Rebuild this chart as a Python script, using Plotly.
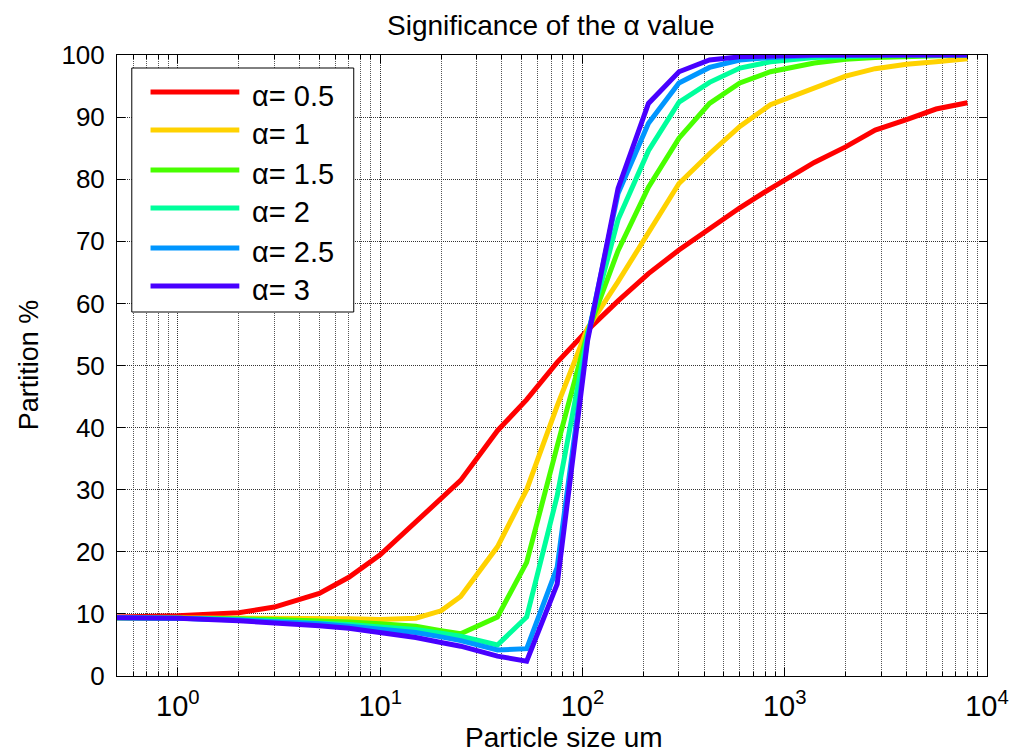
import plotly.graph_objects as go

# ---- data ----
particle_size = [0.5, 0.7, 1, 2, 3, 5, 7, 10, 15, 20, 25, 38, 53, 75, 106, 150,
                 212, 300, 425, 600, 850, 1400, 2000, 2800, 4000, 5600, 8000]
alpha_labels = ["α= 0.5", "α= 1", "α= 1.5", "α= 2", "α= 2.5", "α= 3"]
part_a05 = [9.5, 9.6, 9.7, 10.2, 11.1, 13.3, 15.9, 19.5, 24.8, 28.8, 31.5, 39.5, 44.5, 50.5,
            55.7, 60.4, 64.8, 68.6, 72.1, 75.4, 78.5, 82.7, 85.2, 87.9, 89.6, 91.3, 92.3]
part_a10 = [9.4, 9.4, 9.4, 9.3, 9.3, 9.2, 9.2, 9.1, 9.3, 10.5, 12.8, 20.8, 30.0, 43.5,
            56.0, 63.5, 71.5, 79.3, 84.1, 88.5, 92.0, 94.8, 96.6, 97.8, 98.5, 98.9, 99.4]
part_a15 = [9.4, 9.4, 9.4, 9.2, 9.1, 8.9, 8.7, 8.4, 8.0, 7.3, 6.8, 9.5, 18.3, 37.0,
            55.3, 68.5, 78.7, 86.6, 92.2, 95.5, 97.3, 98.7, 99.3, 99.6, 99.8, 99.9, 100]
part_a20 = [9.4, 9.4, 9.3, 9.1, 8.9, 8.6, 8.3, 7.9, 7.5, 6.9, 6.4, 5.0, 9.5, 29.0,
            55.0, 73.5, 84.6, 92.4, 95.6, 97.9, 98.9, 99.6, 99.8, 99.9, 100, 100, 100]
part_a25 = [9.4, 9.4, 9.3, 9.0, 8.8, 8.4, 8.0, 7.5, 7.0, 6.3, 5.7, 4.2, 4.4, 17.5,
            54.5, 77.7, 89.0, 95.5, 98.0, 99.2, 99.6, 99.9, 100, 100, 100, 100, 100]
part_a30 = [9.4, 9.4, 9.3, 8.9, 8.6, 8.1, 7.7, 7.0, 6.2, 5.4, 4.8, 3.2, 2.4, 14.8,
            54.0, 78.5, 92.2, 97.3, 99.2, 99.7, 99.9, 100, 100, 100, 100, 100, 100]
x_tickvals = [1, 10, 100, 1000, 10000]
x_ticktext = ["10<sup>0</sup>", "10<sup>1</sup>", "10<sup>2</sup>", "10<sup>3</sup>", "10<sup>4</sup>"]

series = [part_a05, part_a10, part_a15, part_a20, part_a25, part_a30]
colors = ["#ff0000", "#ffd200", "#48ff00", "#00ff9c", "#0096ff", "#4800ff"]

FONT = "Liberation Sans, Arial, sans-serif"
W, H = 1021, 754
L, R, T, B = 117, 999, 55, 676

fig = go.Figure()
for lab, ys, c in zip(alpha_labels, series, colors):
    fig.add_trace(go.Scatter(x=particle_size, y=ys, mode="lines", name=lab,
                             line=dict(color=c, width=5), showlegend=False))

def px(xp):
    return (xp - L) / (R - L)

def py(yp):
    return (B - yp) / (B - T)

shapes = []
annotations = []
# legend box
shapes.append(dict(type="rect", xref="paper", yref="paper",
                   x0=px(132), x1=px(357), y0=py(312), y1=py(68),
                   line=dict(color="black", width=1), fillcolor="white", layer="above"))
leg_y = [92, 130, 170, 208, 248, 286]
for lab, c, yy in zip(alpha_labels, colors, leg_y):
    shapes.append(dict(type="line", xref="paper", yref="paper",
                       x0=px(151), x1=px(241), y0=py(yy), y1=py(yy),
                       line=dict(color=c, width=5), layer="above"))
    annotations.append(dict(text=lab, xref="paper", yref="paper", x=px(252), y=py(yy + 4),
                            xanchor="left", yanchor="middle", showarrow=False,
                            font=dict(family=FONT, size=29, color="black")))

annotations.append(dict(text="Significance of the α value", xref="paper", yref="paper",
                        x=px(557), y=py(25), xanchor="center", yanchor="middle",
                        showarrow=False, font=dict(family=FONT, size=28, color="black")))
annotations.append(dict(text="Particle size um", xref="paper", yref="paper",
                        x=px(570), y=py(737), xanchor="center", yanchor="middle",
                        showarrow=False, font=dict(family=FONT, size=28, color="black")))
annotations.append(dict(text="Partition %", xref="paper", yref="paper",
                        x=px(28), y=py(365), xanchor="center", yanchor="middle", textangle=-90,
                        showarrow=False, font=dict(family=FONT, size=27, color="black")))

gridc = "#333333"
gdash = "1px,1px"
fig.update_layout(
    width=W, height=H,
    margin=dict(l=L, r=W - R, t=T, b=H - B),
    paper_bgcolor="white", plot_bgcolor="white",
    shapes=shapes, annotations=annotations,
    xaxis=dict(type="log", range=[-0.30103, 4], tickmode="array",
               tickvals=x_tickvals, ticktext=x_ticktext,
               showline=True, linecolor="black", linewidth=1, mirror="ticks",
               ticks="inside", ticklen=8, tickcolor="black",
               showgrid=True, gridcolor=gridc, griddash=gdash, gridwidth=1,
               minor=dict(dtick="D1", ticks="inside", ticklen=4, tickcolor="black",
                          showgrid=True, gridcolor="#555555", griddash=gdash, gridwidth=1),
               tickfont=dict(family=FONT, size=29, color="black"),
               ticklabelstandoff=4, zeroline=False),
    yaxis=dict(range=[0, 100], dtick=10, tick0=0,
               showline=True, linecolor="black", linewidth=1, mirror="ticks",
               ticks="inside", ticklen=8, tickcolor="black",
               showgrid=True, gridcolor=gridc, griddash=gdash, gridwidth=1,
               tickfont=dict(family=FONT, size=26, color="black"),
               ticklabelstandoff=6, zeroline=False),
)

fig.write_html("out.html")
